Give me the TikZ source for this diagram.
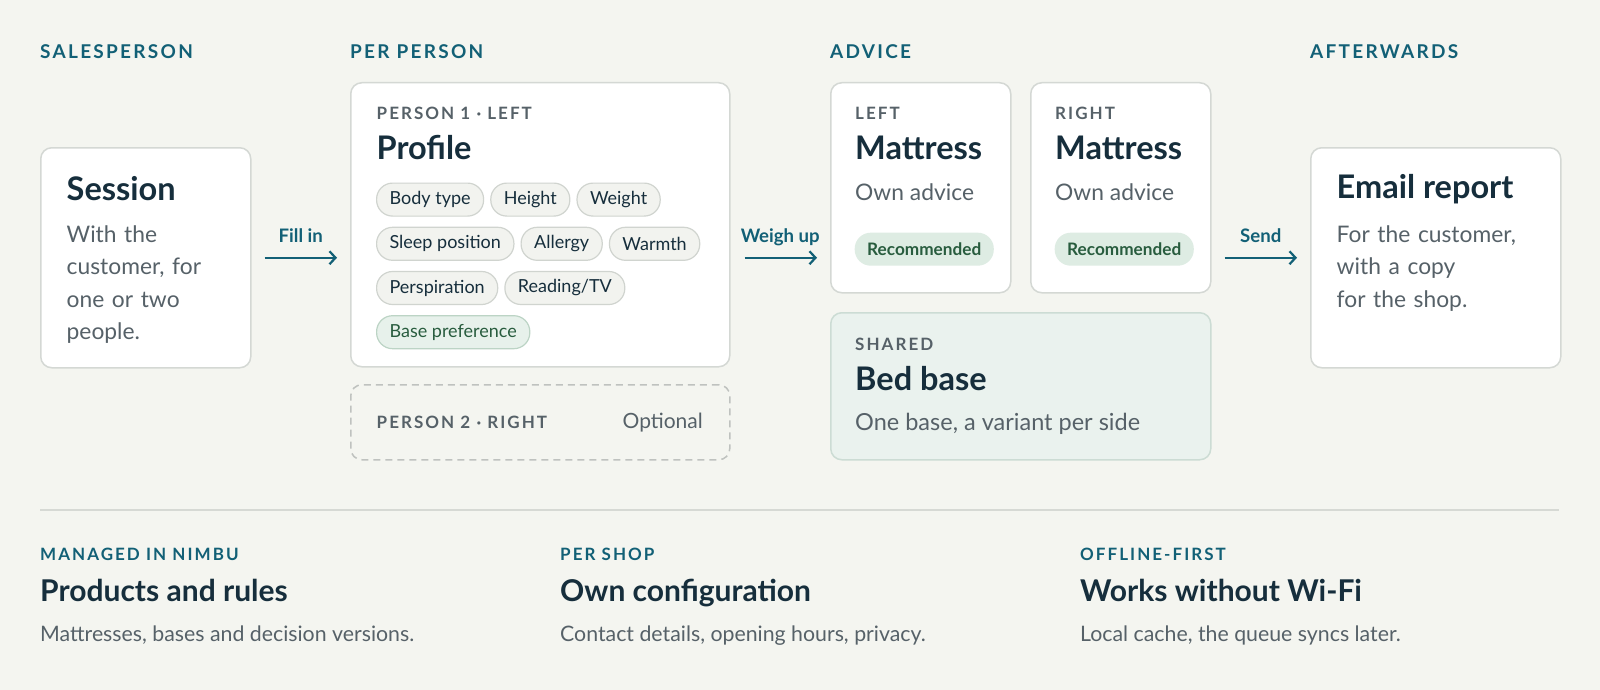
\documentclass[tikz,border=0pt]{standalone}
\usepackage{fontspec}
\setmainfont{Lato}
\newfontfamily\capsfont[LetterSpace=12]{Lato}
\usetikzlibrary{positioning, arrows.meta}

\definecolor{bg}{RGB}{244,245,240}
\definecolor{teal}{RGB}{18,96,118}
\definecolor{navy}{RGB}{22,46,60}
\definecolor{slate}{RGB}{86,97,104}
\definecolor{cardline}{RGB}{212,216,212}
\definecolor{chipfill}{RGB}{242,243,239}
\definecolor{chipline}{RGB}{208,212,207}
\definecolor{greenfill}{RGB}{231,241,235}
\definecolor{greenline}{RGB}{188,212,197}
\definecolor{greentext}{RGB}{40,92,62}
\definecolor{recfill}{RGB}{222,236,227}
\definecolor{sharedfill}{RGB}{234,242,238}
\definecolor{sharedline}{RGB}{204,220,212}
\definecolor{rule}{RGB}{214,217,212}

\begin{document}
\begin{tikzpicture}[x=1pt, y=-1pt, >={Straight Barb[length=6pt, width=13pt, line width=2.2pt]},
    every node/.style={inner sep=0pt},
    card/.style={draw=cardline, fill=white, line width=1.5pt, rounded corners=11pt, anchor=north west},
    header/.style={anchor=base west, text=teal, font=\capsfont\bfseries\fontsize{19}{22}\selectfont},
    tag/.style={anchor=base west, text=slate, font=\capsfont\bfseries\fontsize{17}{20}\selectfont},
    title/.style={anchor=base west, text=navy, font=\bfseries\fontsize{32.5}{38}\selectfont},
    body/.style={anchor=base west, text=slate, align=left, font=\fontsize{22.8}{32.2}\selectfont},
    chip/.style={draw=chipline, fill=chipfill, line width=1.2pt, rounded corners=16pt, minimum height=33pt, inner xsep=13pt, text=navy, font=\fontsize{18}{20}\selectfont},
    rec/.style={fill=recfill, rounded corners=16pt, minimum height=33pt, inner xsep=12.5pt, anchor=north west, text=greentext, font=\bfseries\fontsize{17.2}{20}\selectfont},
    flow/.style={->, draw=teal, line width=2.2pt, shorten <=13pt, shorten >=13pt},
    flowlabel/.style={midway, anchor=base, yshift=15.5pt, text=teal, font=\bfseries\fontsize{18.6}{22}\selectfont}]

% background and margins
\fill[bg] (0,0) rectangle (1600,690);
\useasboundingbox (0,0) rectangle (1600,690);

% column headers
\node[header] (hsales) at (40,59) {SALESPERSON};
\node[header] (hper) at (350,59) {PER PERSON};
\node[header] (hadv) at (830,59) {ADVICE};
\node[header] (hafter) at (1310,59) {AFTERWARDS};

% session card
\node[card, minimum width=210pt, minimum height=220pt] (session) at (40,147) {};
\node[title] (sessiont) at (66.5,200) {Session};
\node[body, text width=170pt] (sessionb) at (66.5,242.7) {With the\\customer, for\\one or two\\people.};

% profile card for person 1
\node[card, minimum width=379pt, minimum height=284pt] (profile) at (350,82) {};
\node[tag] (p1tag) at (376.5,120) {PERSON 1 · LEFT};
\node[title] (profilet) at (376.5,160) {Profile};

% profile chips
\node[chip, anchor=north west] (body) at (376,182.5) {Body type};
\node[chip, right=6pt of body] (height) {Height};
\node[chip, right=6pt of height] (weight) {Weight};
\node[chip, below=10pt of body.south west, anchor=north west] (sleep) {Sleep position};
\node[chip, right=6pt of sleep] (allergy) {Allergy};
\node[chip, right=6pt of allergy] (warmth) {Warmth};
\node[chip, below=10pt of sleep.south west, anchor=north west] (persp) {Perspiration};
\node[chip, right=6pt of persp] (reading) {Reading/TV};
\node[chip, below=10pt of persp.south west, anchor=north west, draw=greenline, fill=greenfill, text=greentext] (basepref) {Base preference};

% optional person 2
\node[card, fill=none, draw=cardline!90!black, dash pattern=on 7pt off 5pt, minimum width=379pt, minimum height=75pt] (person2) at (350,384) {};
\node[tag] (p2tag) at (376.5,428.3) {PERSON 2 · RIGHT};
\node[anchor=base east, text=slate, font=\fontsize{21}{24}\selectfont] (optional) at (703,428.3) {Optional};

% advice cards
\node[card, minimum width=180pt, minimum height=210pt] (lmat) at (830,82) {};
\node[tag] (ltag) at (855,120) {LEFT};
\node[title] (lmatt) at (855,160) {Mattress};
\node[body] (lmatb) at (855,200) {Own advice};
\node[rec] (lrec) at (854.5,232.5) {Recommended};

\node[card, minimum width=180pt, minimum height=210pt] (rmat) at (1030,82) {};
\node[tag] (rtag) at (1055,120) {RIGHT};
\node[title] (rmatt) at (1055,160) {Mattress};
\node[body] (rmatb) at (1055,200) {Own advice};
\node[rec] (rrec) at (1054.5,232.5) {Recommended};

\node[card, fill=sharedfill, draw=sharedline, minimum width=380pt, minimum height=147pt] (shared) at (830,312) {};
\node[tag] (stag) at (855,350) {SHARED};
\node[title] (sharedt) at (855,390) {Bed base};
\node[body, font=\fontsize{23.5}{28}\selectfont] (sharedb) at (855,430) {One base, a variant per side};

% email report card
\node[card, minimum width=250pt, minimum height=220pt] (email) at (1310,147) {};
\node[title] (emailt) at (1336.5,198.3) {Email report};
\node[body, text width=215pt] (emailb) at (1336.5,242.7) {For the customer,\\with a copy\\for the shop.};

% flow arrows
\draw[flow] (session.east) -- (session.east -| profile.west) node[flowlabel] {Fill in};
\draw[flow, shorten <=14pt] (profile.east |- session.east) -- (session.east -| lmat.west) node[flowlabel] {Weigh up};
\draw[flow] (rmat.east |- session.east) -- (session.east -| email.west) node[flowlabel] {Send};

% separator
\draw[rule, line width=2pt] (40,510) -- (1559,510);

% footer columns
\node[tag, text=teal] (f1tag) at (40,560) {MANAGED IN NIMBU};
\node[title, font=\bfseries\fontsize{30}{36}\selectfont] (f1t) at (40,601.7) {Products and rules};
\node[body, font=\fontsize{21.3}{24}\selectfont] (f1b) at (40,641.7) {Mattresses, bases and decision versions.};

\node[tag, text=teal] (f2tag) at (560,560) {PER SHOP};
\node[title, font=\bfseries\fontsize{30}{36}\selectfont] (f2t) at (560,601.7) {Own configuration};
\node[body, font=\fontsize{21.3}{24}\selectfont] (f2b) at (560,641.7) {Contact details, opening hours, privacy.};

\node[tag, text=teal] (f3tag) at (1080,560) {OFFLINE-FIRST};
\node[title, font=\bfseries\fontsize{30}{36}\selectfont] (f3t) at (1080,601.7) {Works without Wi-Fi};
\node[body, font=\fontsize{21.3}{24}\selectfont] (f3b) at (1080,641.7) {Local cache, the queue syncs later.};

\end{tikzpicture}
\end{document}
